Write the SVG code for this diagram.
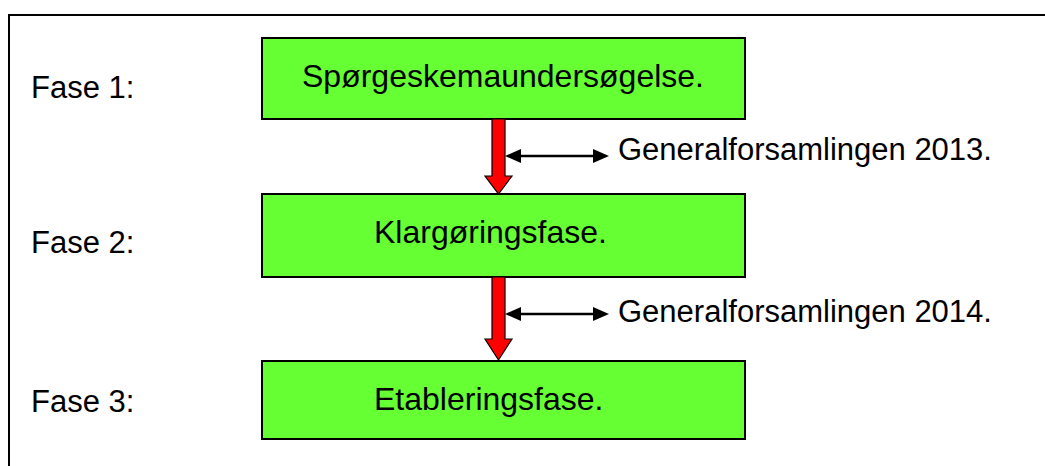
<svg xmlns="http://www.w3.org/2000/svg" width="1045" height="466" viewBox="0 0 1045 466">
<style>
.t{font-family:"Liberation Sans",Arial,sans-serif;font-size:31px;fill:#000}
.b{font-size:32px}
.box{fill:#66ff33;stroke:#000;stroke-width:2}
.red{fill:#ff0000;stroke:#000;stroke-width:1.2;stroke-linejoin:miter}
.dl{stroke:#000;stroke-width:2.5;fill:none}
.ah{fill:#000}
</style>
<rect width="1045" height="466" fill="#fff"/>
<rect x="9" y="15" width="1060" height="480" fill="none" stroke="#000" stroke-width="2"/>
<g id="label-fase1"><text class="t" x="31" y="98">Fase 1:</text></g>
<g id="label-fase2"><text class="t" x="31" y="253">Fase 2:</text></g>
<g id="label-fase3"><text class="t" x="31" y="412">Fase 3:</text></g>
<g id="node-1"><rect class="box" x="262" y="38" width="483" height="81"/><text class="t b" x="302" y="87">Spørgeskemaundersøgelse.</text></g>
<g id="node-2"><rect class="box" x="262" y="194" width="483" height="83"/><text class="t b" x="374" y="243">Klargøringsfase.</text></g>
<g id="node-3"><rect class="box" x="262" y="361" width="483" height="78"/><text class="t b" x="374" y="410">Etableringsfase.</text></g>
<g id="connectors">
<polygon class="red" points="492,119 505,119 505,176 512,176 498.5,194 485,176 492,176"/>
<polygon class="red" points="492,277 505,277 505,339 512,339 498.5,360 485,339 492,339"/>
<line class="dl" x1="518" y1="156" x2="596" y2="156"/>
<polygon class="ah" points="505,156 521,149 521,163"/>
<polygon class="ah" points="609,156 593,149 593,163"/>
<line class="dl" x1="518" y1="314" x2="596" y2="314"/>
<polygon class="ah" points="505,314 521,307 521,321"/>
<polygon class="ah" points="609,314 593,307 593,321"/>
</g>
<g id="label-ga2013"><text class="t" x="618" y="160">Generalforsamlingen 2013.</text></g>
<g id="label-ga2014"><text class="t" x="618" y="322">Generalforsamlingen 2014.</text></g>
</svg>
